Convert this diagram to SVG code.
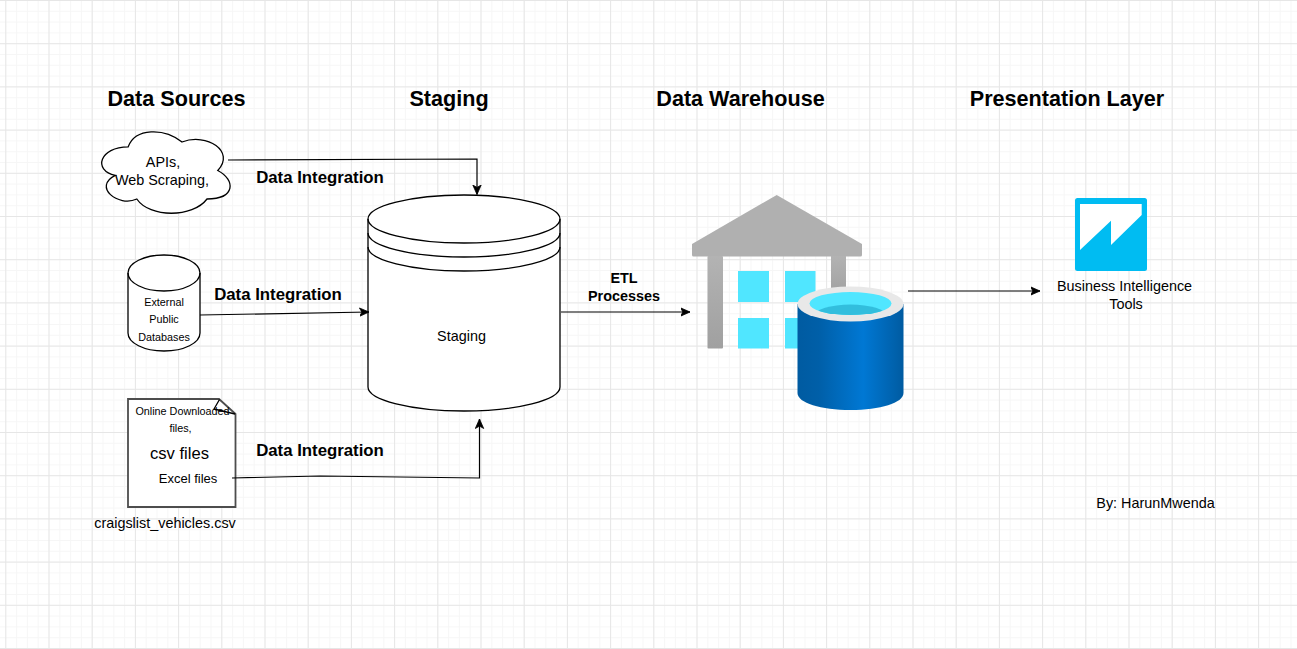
<svg xmlns="http://www.w3.org/2000/svg" width="1297" height="649" viewBox="0 0 1297 649">
<style>
text{font-family:"Liberation Sans",Arial,sans-serif;fill:#000;text-anchor:middle}
.h{font-size:21.6px;font-weight:bold}
.b{font-size:16.8px;font-weight:bold}
.e{font-size:14.4px;font-weight:bold}
.t{font-size:14.4px}
.s{font-size:10.8px}
.sh{fill:#fff;stroke:#000;stroke-width:1.3}
.c{fill:none;stroke:#000;stroke-width:1.2;marker-end:url(#a)}
</style>
<defs>
<pattern id="minor" width="10.8" height="10.8" patternUnits="userSpaceOnUse" x="5.3" y="0"><path d="M0 0V10.8M0 0H10.8" fill="none" stroke="#f6f6f6" stroke-width="2"/></pattern>
<pattern id="major" width="43.2" height="43.2" patternUnits="userSpaceOnUse" x="5.3" y="0"><path d="M0 0V43.2M0 0H43.2" fill="none" stroke="#e6e6e6" stroke-width="2"/></pattern>
<marker id="a" markerUnits="userSpaceOnUse" markerWidth="12" markerHeight="12" refX="9.500" refY="5" orient="auto"><path d="M0 0.800L9.500 5L0 9.200L2.400 5Z" fill="#000" stroke="#000" stroke-width="0.800"/></marker>
<linearGradient id="gray" x1="0" y1="0" x2="0" y2="1"><stop offset="0" stop-color="#b3b3b3"/><stop offset="1" stop-color="#a0a0a0"/></linearGradient>
<linearGradient id="blue" x1="0" y1="0" x2="1" y2="0"><stop offset="0" stop-color="#005ba1"/><stop offset="0.2" stop-color="#005fa8"/><stop offset="0.62" stop-color="#0078d4"/><stop offset="1" stop-color="#005ba1"/></linearGradient>
<clipPath id="inner"><ellipse cx="850.500" cy="303.500" rx="41" ry="11.500"/></clipPath>
</defs>
<rect width="1297" height="649" fill="#fff"/>
<rect width="1297" height="649" fill="url(#minor)"/>
<rect width="1297" height="649" fill="url(#major)"/>

<g id="titles">
<text class="h" x="176.500" y="106">Data Sources</text>
<text class="h" x="449" y="106">Staging</text>
<text class="h" x="740.500" y="106">Data Warehouse</text>
<text class="h" x="1067" y="106">Presentation Layer</text>
</g>

<g id="cloud">
<path class="sh" d="M128.200 146.800C99.600 146.800 92.400 170.500 115.300 175.300C92.400 186.700 118.200 207.600 136.800 199C149.700 218 192.700 218 207 199C235.700 199 235.700 180 217.800 170.500C235.700 151.500 207 132.500 182 142C164 127.800 135.400 127.800 128.200 146.800Z"/>
<text x="163" y="167" style="font-size:14.400px">APIs,</text>
<text x="162" y="185" style="font-size:14.400px">Web Scraping,</text>
</g>

<g id="external-db">
<path class="sh" d="M128 273C128 263 144 255 164 255C184 255 200 263 200 273V333C200 343 184 351 164 351C144 351 128 343 128 333Z"/>
<path class="sh" style="fill:none" d="M128 273C128 283 144 291 164 291C184 291 200 283 200 273"/>
<text class="s" x="164" y="306">External</text>
<text class="s" x="164" y="323">Public</text>
<text class="s" x="164" y="341">Databases</text>
</g>

<g id="files">
<path d="M128 399H219L235.500 414V507H128Z" fill="#fff" stroke="#4d4d4d" stroke-width="1.800"/>
<path d="M219.500 399.500L214 409L235 414" fill="none" stroke="#000" stroke-width="1.300"/>
<text class="s" x="182.500" y="415">Online Downloaded</text>
<text class="s" x="180.500" y="432">files,</text>
<text x="179.500" y="459" style="font-size:16.600px">csv files</text>
<text x="188" y="483" style="font-size:13px">Excel files</text>
<text x="165" y="528" style="font-size:14.400px">craigslist_vehicles.csv</text>
</g>

<g id="staging">
<path class="sh" d="M368 219C368 206 411 195 464 195C517 195 560 206 560 219V387C560 400 517 411 464 411C411 411 368 400 368 387Z"/>
<path class="sh" style="fill:none" d="M368 219C368 232 411 243 464 243C517 243 560 232 560 219M368 233C368 246 411 257 464 257C517 257 560 246 560 233M368 247C368 260 411 271 464 271C517 271 560 260 560 247"/>
<text class="t" x="461.500" y="341">Staging</text>
</g>

<g id="warehouse">
<path d="M776.700 195L692 244V255Q692 256.500 693.500 256.500H860.500Q862 256.500 862 255V244Z" fill="#b0b0b0"/>
<rect x="707.500" y="256" width="15.500" height="92.500" rx="1" fill="url(#gray)"/>
<rect x="831" y="256" width="15" height="40" fill="url(#gray)"/>
<rect x="738" y="271" width="31" height="31" fill="#50e6ff"/>
<rect x="785" y="271" width="30.500" height="31" fill="#50e6ff"/>
<rect x="738" y="318" width="31" height="30.500" fill="#50e6ff"/>
<rect x="785" y="318" width="30.500" height="30.500" fill="#50e6ff"/>
<path d="M797.500 304V393C797.500 403 821 410 850.500 410C880 410 903.500 403 903.500 393V304Z" fill="url(#blue)"/>
<ellipse cx="850.500" cy="304" rx="53" ry="17.500" fill="#e8e8e8"/>
<ellipse cx="850.500" cy="303.500" rx="41" ry="11.500" fill="#50e6ff"/>
<ellipse cx="850.500" cy="316" rx="36" ry="11.500" fill="#32bedd" clip-path="url(#inner)"/>
</g>

<g id="bi-tools">
<rect x="1075" y="198" width="72" height="73" rx="2.500" fill="#00bcf2"/>
<path d="M1080 204H1141.700V215L1111 245V220.700L1080 250Z" fill="#fff"/>
<text class="t" x="1124.500" y="291">Business Intelligence</text>
<text class="t" x="1126" y="309">Tools</text>
</g>

<g id="connectors">
<path class="c" d="M228 160L477 159V194.500"/>
<path class="c" d="M200 315L369 312"/>
<path class="c" d="M232 478L320 476L479.500 478V419"/>
<path class="c" d="M561 312H690"/>
<path class="c" d="M908 291H1040"/>
</g>

<g id="labels">
<text class="b" x="320" y="183">Data Integration</text>
<text class="b" x="278" y="300">Data Integration</text>
<text class="b" x="320" y="456">Data Integration</text>
<text class="e" x="624" y="283">ETL</text>
<text class="e" x="624" y="301">Processes</text>
<text class="t" x="1155.500" y="508">By: HarunMwenda</text>
</g>
</svg>
